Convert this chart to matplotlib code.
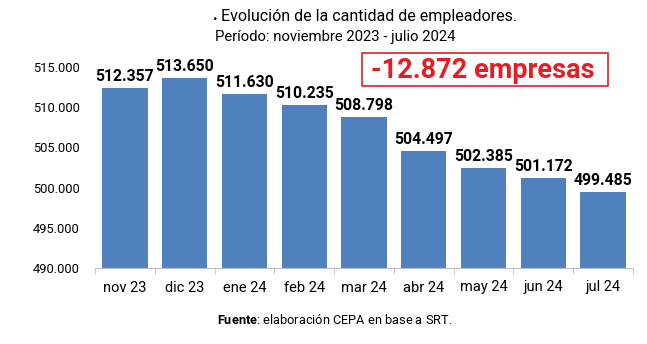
import matplotlib.pyplot as plt
from matplotlib.patches import Rectangle
from matplotlib.ticker import FuncFormatter

categories = ["nov 23", "dic 23", "ene 24", "feb 24", "mar 24", "abr 24", "may 24", "jun 24", "jul 24"]
values = [512357, 513650, 511630, 510235, 508798, 504497, 502385, 501172, 499485]
yticks = [490000, 495000, 500000, 505000, 510000, 515000]

plt.rcParams['font.family'] = ['Roboto', 'DejaVu Sans']
plt.rcParams['mathtext.fontset'] = 'custom'
plt.rcParams['mathtext.rm'] = 'Roboto'
plt.rcParams['mathtext.bf'] = 'Roboto:bold'

W, H = 647, 344
fig = plt.figure(figsize=(W/100, H/100), dpi=100)
ax = fig.add_axes([95/W, 1-268/H, (633-95)/W, (268-67)/H])

x = range(len(categories))
ax.bar(x, values, width=0.76, color="#4F81BD", zorder=2)
ax.set_ylim(490000, 515000)
ax.set_xlim(-0.5, len(categories)-0.5)
ax.set_yticks(yticks)
ax.yaxis.set_major_formatter(FuncFormatter(lambda v, p: f"{int(v):,}".replace(",", ".")))
ax.set_xticks(list(x))
ax.set_xticklabels(categories)
ax.set_xticks([i+0.5 for i in range(-1, len(categories))], minor=True)
ax.tick_params(axis='x', which='major', length=0, labelsize=10.5, pad=9)
ax.tick_params(axis='x', which='minor', length=4, color="#BFBFBF")
ax.tick_params(axis='y', length=0, labelsize=9.3, pad=11)
for s in ["top", "right", "left"]:
    ax.spines[s].set_visible(False)
ax.spines["bottom"].set_color("#BFBFBF")

for i, v in enumerate(values):
    ax.text(i, v + 500, f"{v:,}".replace(",", "."), ha="center", va="bottom",
            fontsize=11.3, fontweight="bold", clip_on=False)

fig.text(213/W, 1-16/H, ".", fontsize=11.5, fontweight="bold", ha="left", va="center")
fig.text(221/W, 1-16/H, "Evolución de la cantidad de empleadores.", fontsize=11.5, ha="left", va="center")
fig.text(215/W, 1-37/H, "Período: noviembre 2023 - julio 2024", fontsize=10.7, ha="left", va="center")

fig.patches.append(Rectangle((362/W, 1-86/H), (608-362)/W, (86-53)/H, transform=fig.transFigure,
                             fill=False, edgecolor="#E31E24", linewidth=1.2))
fig.text(483/W, 1-71/H, "-12.872 empresas", fontsize=19.5, fontweight="bold", color="#E31E24",
         ha="center", va="center")

fig.text(335/W, 1-320/H, r"$\bf{Fuente}$: elaboración CEPA en base a SRT.", fontsize=9.2, ha="center", va="center")

fig.savefig("out.png", dpi=100)
